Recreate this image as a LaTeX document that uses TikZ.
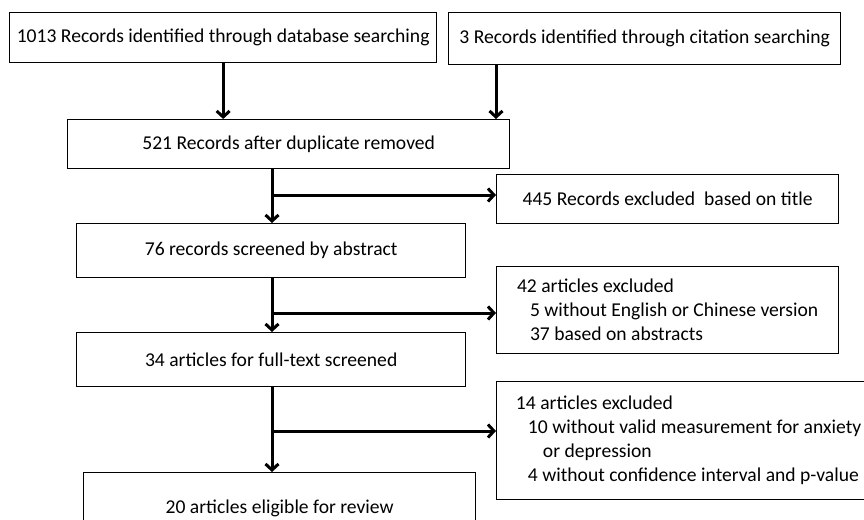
\documentclass[tikz,border=0pt]{standalone}
\usepackage{fontspec}
\setmainfont{Carlito}
\usetikzlibrary{arrows.meta}

\tikzset{
  box/.style={draw, line width=1.3pt, anchor=north west, inner sep=0pt,
    align=left, font=\fontsize{19.6}{24}\selectfont},
  flow/.style={line width=3pt, -{Straight Barb[length=6pt,width=13pt]}},
}

\begin{document}
\begin{tikzpicture}[x=1pt,y=-1pt]
  \clip (0,0) rectangle (864,519);
  % records and screening steps
  \node[box, minimum width=427pt, minimum height=50pt] (db) at (9,12)
    {1013 Records identified through database searching};
  \node[box, minimum width=392pt, minimum height=52pt] (cit) at (448,12)
    {3 Records identified through citation searching};
  \node[box, minimum width=442pt, minimum height=49pt] (dup) at (67,119)
    {521 Records after duplicate removed};
  \node[box, minimum width=389pt, minimum height=54pt] (abs) at (76,223)
    {76 records screened by abstract};
  \node[box, minimum width=389pt, minimum height=54pt] (full) at (76,332)
    {34 articles for full-text screened};
  \node[box, minimum width=392pt, minimum height=72pt] (elig) at (83,472)
    {20 articles eligible for review};
  % exclusions
  \node[box, minimum width=342pt, minimum height=49pt] (title) at (496,174)
    {445 Records excluded\ \ based on title};
  \node[box, minimum width=342pt, minimum height=87pt] (exa) at (496,266)
    {42 articles excluded\\
     \hspace*{13pt}5 without English or Chinese version\\
     \hspace*{13pt}37 based on abstracts};
  \node[box, minimum width=384pt, minimum height=118pt] (exf) at (496,381)
    {14 articles excluded\\
     \hspace*{12pt}10 without valid measurement for anxiety\\
     \hspace*{27pt}or depression\\
     \hspace*{12pt}4 without confidence interval and p-value};
  % junctions on the main line
  \coordinate (j1) at (272,195);
  \coordinate (j2) at (272,313);
  \coordinate (j3) at (272,431);
  \draw[flow] (db.south) -- (db.south |- dup.north);
  \draw[flow] ([xshift=48pt]cit.south west) -- ([xshift=48pt]cit.south west |- dup.north);
  \draw[flow] (j1 |- dup.south) -- (j1 |- abs.north);
  \draw[flow] (j1) -- (j1 -| title.west);
  \draw[flow] (j2 |- abs.south) -- (j2 |- full.north);
  \draw[flow] (j2) -- (j2 -| exa.west);
  \draw[flow] (j3 |- full.south) -- (j3 |- elig.north);
  \draw[flow] (j3) -- (j3 -| exf.west);
\end{tikzpicture}
\end{document}
